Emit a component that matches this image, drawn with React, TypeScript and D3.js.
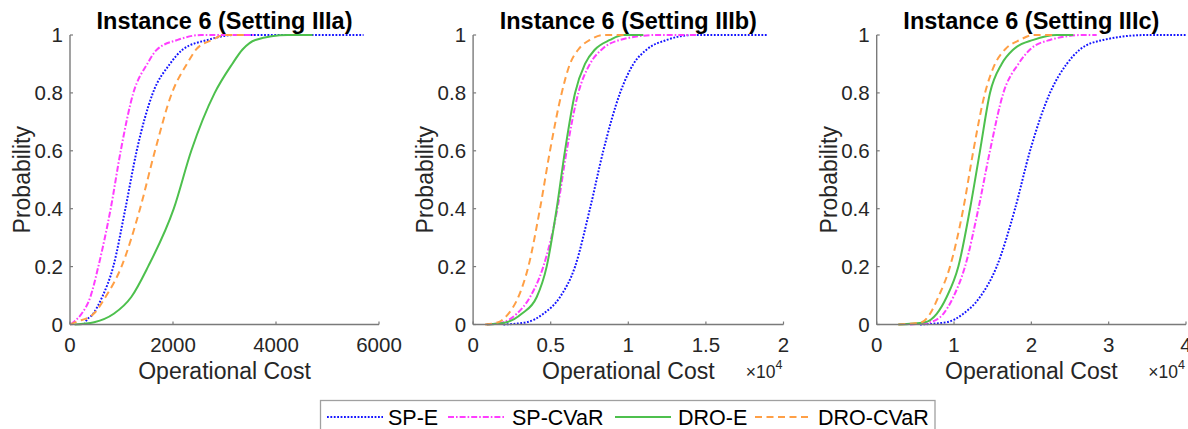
import React from "react";
import * as d3 from "d3";

// Probability levels shared by every empirical CDF curve (last two: plateau start / end)
const probLevels = [0, 0.008, 0.037, 0.095, 0.2, 0.4, 0.6, 0.8, 0.9, 0.95, 0.983, 1, 1];

const seriesNames = ["SP-E", "SP-CVaR", "DRO-E", "DRO-CVaR"];
const panelTitles = [
  "Instance 6 (Setting IIIa)",
  "Instance 6 (Setting IIIb)",
  "Instance 6 (Setting IIIc)",
];

// Setting IIIa operational cost at each probability level
const iiiaSPE = [280, 300, 450, 625, 840, 1075, 1295, 1610, 1940, 2190, 2675, 3190, 5700];
const iiiaSPCVaR = [13, 65, 225, 395, 550, 790, 985, 1230, 1500, 1690, 2090, 2545, 3600];
const iiiaDROE = [90, 470, 850, 1190, 1516, 2015, 2355, 2810, 3150, 3350, 3600, 4225, 4710];
const iiiaDROCVaR = [0, 110, 460, 690, 1000, 1360, 1650, 1980, 2270, 2450, 2760, 3000, 3400];

// Setting IIIb
const iiibSPE = [1950, 3450, 4525, 5600, 6570, 7530, 8390, 9470, 10330, 11190, 12480, 14190, 19000];
const iiibSPCVaR = [875, 1950, 2810, 3670, 4525, 5430, 6030, 6780, 7530, 8290, 9470, 11830, 14400];
const iiibDROE = [875, 2160, 3130, 4100, 4740, 5385, 5920, 6570, 7210, 7855, 8820, 9680, 10970];
const iiibDROCVaR = [770, 1625, 2270, 2915, 3560, 4310, 4955, 5710, 6240, 6780, 7530, 8400, 9700];

// Setting IIIc
const iiicSPE = [5600, 9050, 11200, 13360, 15520, 17890, 19830, 22410, 24570, 26290, 29310, 34900, 40000];
const iiicSPCVaR = [4310, 6900, 8620, 9910, 11420, 13150, 14650, 16380, 18320, 19830, 22410, 26720, 28450];
const iiicDROE = [2800, 6250, 7760, 9050, 10560, 12070, 13360, 14650, 16160, 17670, 20260, 23270, 25430];
const iiicDROCVaR = [2800, 5820, 6900, 7970, 9480, 11200, 12500, 14010, 15300, 16590, 18530, 20260, 23000];

const xMaxes = [6000, 20000, 40000];
const xTickValues = [
  [0, 2000, 4000, 6000],
  [0, 5000, 10000, 15000, 20000],
  [0, 10000, 20000, 30000, 40000],
];
const xTickLabels = [
  ["0", "2000", "4000", "6000"],
  ["0", "0.5", "1", "1.5", "2"],
  ["0", "1", "2", "3", "4"],
];
const xExponent = [null, "4", "4"];
const yTickValues = [0, 0.2, 0.4, 0.6, 0.8, 1];
const yTickLabels = ["0", "0.2", "0.4", "0.6", "0.8", "1"];

const panelData = [
  [iiiaSPE, iiiaSPCVaR, iiiaDROE, iiiaDROCVaR],
  [iiibSPE, iiibSPCVaR, iiibDROE, iiibDROCVaR],
  [iiicSPE, iiicSPCVaR, iiicDROE, iiicDROCVaR],
];

const seriesStyles = [
  { color: "#1414ff", dash: "1.8 1.6", width: 2 },
  { color: "#ff3dff", dash: "6 2 1.6 2", width: 2 },
  { color: "#4dc04d", dash: "none", width: 2 },
  { color: "#ff9f45", dash: "7 4.5", width: 2 },
];

const panelLeft = [70, 473.1, 876.7];
const panelRight = [379, 783.5, 1186];
const plotTop = 35;
const plotBottom = 324.5;

const FONT = "'Liberation Sans', Arial, Helvetica, sans-serif";
const TEXT = "#262626";
const AXIS = "#7a7a7a";

function Panel({ idx }: { idx: number }) {
  const x = d3.scaleLinear().domain([0, xMaxes[idx]]).range([panelLeft[idx], panelRight[idx]]);
  const y = d3.scaleLinear().domain([0, 1]).range([plotBottom, plotTop]);
  const line = d3
    .line<[number, number]>()
    .x((d) => x(d[0]))
    .y((d) => y(d[1]))
    .curve(d3.curveMonotoneX);
  const x0 = panelLeft[idx];
  const x1 = panelRight[idx];
  const cx = (x0 + x1) / 2;
  return (
    <g>
      <text x={cx} y={28.5} textAnchor="middle" fontFamily={FONT} fontWeight="bold" fontSize={23.5} fill="#000">
        {panelTitles[idx]}
      </text>
      {panelData[idx].map((costs, s) => {
        const pts: [number, number][] = costs.map((c, i) => [c, probLevels[i]]);
        const st = seriesStyles[s];
        return (
          <path
            key={s}
            d={line(pts) || ""}
            fill="none"
            stroke={st.color}
            strokeWidth={st.width}
            strokeDasharray={st.dash}
          />
        );
      })}
      <line x1={x0} x2={x1} y1={plotBottom} y2={plotBottom} stroke={AXIS} strokeWidth={1.4} />
      <line x1={x0} x2={x0} y1={plotTop} y2={plotBottom} stroke={AXIS} strokeWidth={1.4} />
      {xTickValues[idx].map((v, i) => (
        <g key={"xt" + i}>
          <line x1={x(v)} x2={x(v)} y1={plotBottom} y2={plotBottom - 3} stroke={AXIS} strokeWidth={1.2} />
          <text x={x(v)} y={352} textAnchor="middle" fontFamily={FONT} fontSize={20.5} fill={TEXT}>
            {xTickLabels[idx][i]}
          </text>
        </g>
      ))}
      {yTickValues.map((v, i) => (
        <g key={"yt" + i}>
          <line x1={x0} x2={x0 + 3} y1={y(v)} y2={y(v)} stroke={AXIS} strokeWidth={1.2} />
          <text x={x0 - 7} y={y(v)} dy="0.35em" textAnchor="end" fontFamily={FONT} fontSize={20.5} fill={TEXT}>
            {yTickLabels[i]}
          </text>
        </g>
      ))}
      <text x={cx} y={378.5} textAnchor="middle" fontFamily={FONT} fontSize={23} fill={TEXT}>
        Operational Cost
      </text>
      <text
        transform={`translate(${x0 - 40},${(plotTop + plotBottom) / 2}) rotate(-90)`}
        textAnchor="middle"
        fontFamily={FONT}
        fontSize={23}
        fill={TEXT}
      >
        Probability
      </text>
      {xExponent[idx] && (
        <text x={x1 - 1} y={378} textAnchor="end" fontFamily={FONT} fontSize={17.5} fill={TEXT}>
          ×10
          <tspan fontSize={12.5} dy={-9}>
            {xExponent[idx]}
          </tspan>
        </text>
      )}
    </g>
  );
}

const legendLineX = [327, 448, 615, 755];
const legendTextX = [388, 512, 678, 818];

export default function App() {
  return (
    <svg
      width={1188}
      height={429}
      style={{ position: "absolute", left: 0, top: 0, background: "#fff" }}
    >
      <rect x={0} y={0} width={1188} height={429} fill="#fff" />
      {[0, 1, 2].map((i) => (
        <Panel key={i} idx={i} />
      ))}
      <rect x={320.5} y={400.5} width={614.5} height={40} fill="#fff" stroke="#a0a0a0" strokeWidth={1.3} />
      {seriesNames.map((name, s) => (
        <g key={name}>
          <line
            x1={legendLineX[s]}
            x2={legendLineX[s] + 56}
            y1={417}
            y2={417}
            stroke={seriesStyles[s].color}
            strokeWidth={2}
            strokeDasharray={seriesStyles[s].dash}
          />
          <text x={legendTextX[s]} y={425} fontFamily={FONT} fontSize={21.5} fill="#000">
            {name}
          </text>
        </g>
      ))}
    </svg>
  );
}
